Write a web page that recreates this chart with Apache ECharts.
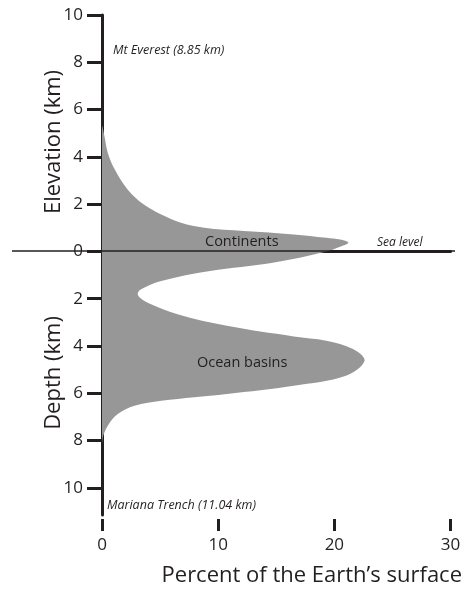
<!DOCTYPE html>
<html><head><meta charset="utf-8">
<script src="https://cdn.jsdelivr.net/npm/echarts@6/dist/echarts.min.js"></script>
<style>html,body{margin:0;padding:0;background:#fff}#c{width:465px;height:592px}</style>
</head><body><div id="c"></div>
<script>
// Elevation (km, positive above sea level, negative = depth) from top to bottom of the shape
const elevation = [5.29, 4.9, 4.16, 3.46, 2.62, 1.98, 1.56, 1.21, 1.0, 0.86, 0.72, 0.58, 0.5, 0.37, 0.2, 0.0, -0.48, -0.83, -1.25, -1.6, -1.77, -1.94, -2.17, -2.66, -3.15, -3.6, -3.78, -4.13, -4.63, -5.26, -5.68, -6.03, -6.32, -6.53, -6.88, -7.37, -7.8, -8.1];
// Percent of the Earth's surface at each elevation
const percent   = [0, 0.2, 0.5, 1.1, 2.2, 3.6, 5.1, 6.8, 8.8, 12.2, 16.5, 19.3, 20.5, 21.2, 20.5, 19.3, 14.7, 9.3, 5.1, 3.37, 3.08, 3.22, 3.93, 6.5, 10.75, 16.5, 19.3, 21.6, 22.6, 21.0, 16.5, 10.75, 5.1, 2.8, 1.35, 0.5, 0.1, 0];
const yTickValues = [-10, -8, -6, -4, -2, 0, 2, 4, 6, 8, 10];
const xTickValues = [0, 10, 20, 30];
const annotations = [
  {text: 'Mt Everest (8.85 km)', x: 113, y: 50, size: 12.5, italic: true},
  {text: 'Mariana Trench (11.04 km)', x: 107, y: 505, size: 12.5, italic: true},
  {text: 'Sea level', x: 377, y: 243, size: 12, italic: true},
  {text: 'Continents', x: 205, y: 242, size: 14.5, italic: false},
  {text: 'Ocean basins', x: 197, y: 363, size: 14.5, italic: false}
];

const ink = '#231f20';
const FONT = '"Open Sans", "Noto Sans", sans-serif';
const chart = echarts.init(document.getElementById('c'), null, {renderer: 'canvas'});

const pairs = percent.map((p, i) => [p, elevation[i]]);

const option = {
  animation: false,
  backgroundColor: '#fff',
  grid: {left: 102, right: 12, top: 15, bottom: 76, containLabel: false},
  xAxis: [
    {
      type: 'value', min: 0, max: 30, interval: 10, position: 'bottom',
      axisLine: {show: true, lineStyle: {color: ink, width: 3}},
      axisTick: {show: false}, axisLabel: {show: false}, splitLine: {show: false}
    },
    {
      type: 'value', min: 0, max: 30, interval: 10, position: 'bottom', offset: 4,
      axisLine: {show: false},
      axisTick: {show: true, length: 12, customValues: xTickValues, lineStyle: {color: ink, width: 3}},
      axisLabel: {show: true, margin: 18, customValues: xTickValues, color: ink, fontSize: 17, fontFamily: FONT},
      splitLine: {show: false},
      name: 'Percent of the Earth\u2019s surface', nameLocation: 'middle', nameGap: 46,
      nameTextStyle: {color: ink, fontSize: 22, fontFamily: FONT, padding: [0, 0, 0, 71]}
    }
  ],
  yAxis: {
    type: 'value', min: -11.15, max: 10,
    axisLine: {show: true, lineStyle: {color: ink, width: 3}},
    axisTick: {show: true, length: 15, customValues: yTickValues, lineStyle: {color: ink, width: 3}},
    axisLabel: {show: true, customValues: yTickValues, margin: 19, color: ink, fontSize: 17, fontFamily: FONT,
      formatter: v => String(Math.abs(v))},
    splitLine: {show: false}
  },
  series: [{
    type: 'custom',
    xAxisIndex: 0,
    clip: true,
    data: pairs,
    renderItem: function (params, api) {
      if (params.dataIndex !== 0) return null;
      const pts = pairs.map(d => api.coord(d));
      return {
        type: 'polygon',
        shape: {points: pts, smooth: 0.35},
        style: {fill: '#979797', stroke: null}
      };
    },
    z: 1
  }],
  graphic: []
};
chart.setOption(option);

const y0 = Math.round(chart.convertToPixel({yAxisIndex: 0}, 0));
const g = [
  {type: 'line', z: 100, shape: {x1: 12, y1: y0, x2: 455, y2: y0}, style: {stroke: ink, lineWidth: 1.6}},
  {type: 'text', z: 100, x: 54, y: 142, rotation: Math.PI / 2,
    style: {text: 'Elevation (km)', fill: ink, font: '22px ' + FONT, textAlign: 'center', textVerticalAlign: 'middle'}},
  {type: 'text', z: 100, x: 54, y: 373, rotation: Math.PI / 2,
    style: {text: 'Depth (km)', fill: ink, font: '22px ' + FONT, textAlign: 'center', textVerticalAlign: 'middle'}}
];
annotations.forEach(a => g.push({
  type: 'text', z: 100, x: a.x, y: a.y,
  style: {text: a.text, fill: ink, font: (a.italic ? 'italic ' : '') + a.size + 'px ' + FONT, textAlign: 'left', textVerticalAlign: 'middle'}
}));
chart.setOption({graphic: g});
</script>
</body></html>
